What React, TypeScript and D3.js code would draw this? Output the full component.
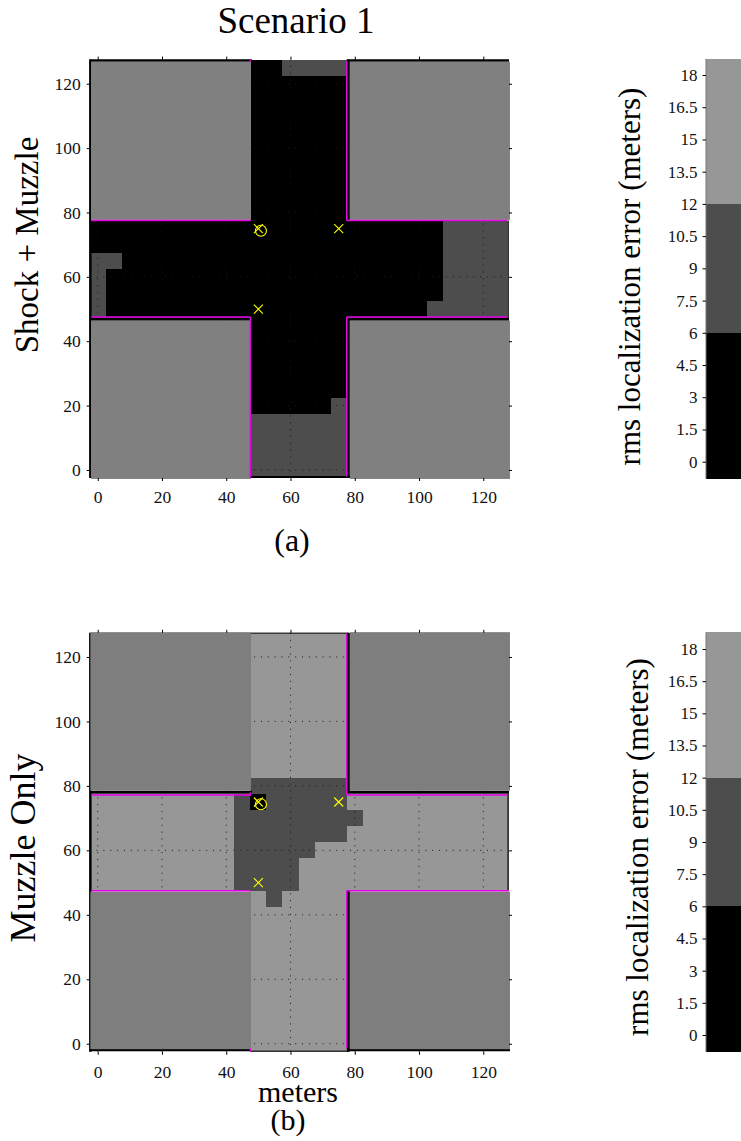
import React, { useEffect, useRef } from 'react';
import * as d3 from 'd3';

const width = 741;
const height = 1141;
const serif = '"Liberation Serif", "Times New Roman", serif';

const tickValues = [0, 20, 40, 60, 80, 100, 120];
const colorbarTicks = [0, 1.5, 3, 4.5, 6, 7.5, 9, 10.5, 12, 13.5, 15, 16.5, 18];
const colorbarEdges = [-0.8, 6, 12, 18.75];

// rms error per 5 m cell, top row is y=125, first column is x=0. "." is under a building
const levelMeters: Record<string, number> = { 0: 3, 1: 9, 2: 15 };
const cellCentersX = d3.range(0, 130, 5);
const cellCentersY = d3.range(125, -5, -5);

const gridA = [
  '..........001111..........',
  '..........000000..........',
  '..........000000..........',
  '..........000000..........',
  '..........000000..........',
  '..........000000..........',
  '..........000000..........',
  '..........000000..........',
  '..........000000..........',
  '..........000000..........',
  '00000000000000000000001111',
  '00000000000000000000001111',
  '11000000000000000000001111',
  '10000000000000000000001111',
  '10000000000000000000001111',
  '10000000000000000000011111',
  '..........000000..........',
  '..........000000..........',
  '..........000000..........',
  '..........000000..........',
  '..........000000..........',
  '..........000001..........',
  '..........111111..........',
  '..........111111..........',
  '..........111111..........',
  '..........111111..........',
];

const gridB = [
  '..........222222..........',
  '..........222222..........',
  '..........222222..........',
  '..........222222..........',
  '..........222222..........',
  '..........222222..........',
  '..........222222..........',
  '..........222222..........',
  '..........222222..........',
  '..........111111..........',
  '22222222210111112222222222',
  '22222222211111111222222222',
  '22222222211111112222222222',
  '22222222211111222222222222',
  '22222222211112222222222222',
  '22222222211112222222222222',
  '..........212222..........',
  '..........222222..........',
  '..........222222..........',
  '..........222222..........',
  '..........222222..........',
  '..........222222..........',
  '..........222222..........',
  '..........222222..........',
  '..........222222..........',
  '..........222222..........',
];

// [xMin, xMax, yMin, yMax] in meters
const buildingsA = [
  [-2.1, 47.7, 77.7, 126.8],
  [78.5, 128.3, 77.7, 126.8],
  [-2.1, 47.7, -2.8, 46.4],
  [78.5, 128.3, -2.8, 46.4],
];
const buildingsB = [
  [-2.3, 47.7, 78.5, 127.7],
  [78.5, 128.3, 78.5, 127.7],
  [-2.3, 47.7, -1.7, 47.2],
  [78.5, 128.3, -1.7, 47.2],
];

// [x1, y1, x2, y2, stroke px]
const blackA = [
  [-2.3, -2.5, -2.3, 127.5, 2.5],
  [-2.5, 127.2, 48, 127.2, 2.5],
  [77.5, 127.2, 128, 127.2, 2.5],
  [-2.5, 46.9, 47.5, 46.9, 3.6],
  [77.5, 46.9, 128, 46.9, 3.6],
  [78, -2.5, 78, 47, 3],
  [78, 77.5, 78, 127.5, 3],
  [127.7, 47.5, 127.7, 77.5, 1.5],
  [47.5, -2.2, 78.5, -2.2, 2],
];
const magentaA = [
  [-2, 77.5, 47.7, 77.5],
  [47.5, 127.5, 47.5, 126.8],
  [47.5, 47.5, 47.5, -2.5],
  [-2, 47.5, 47.5, 47.5],
  [77.5, 47.5, 127.5, 47.5],
  [77.5, 77.5, 127.5, 77.5],
  [77.5, 77.5, 77.5, 127],
  [77.5, 47.5, 77.5, -2],
];
const blackB = [
  [-2.3, -2.5, -2.3, 127.5, 2.5],
  [47.5, 127.4, 78, 127.4, 1],
  [-2.5, 78, 48, 78, 3],
  [77.5, 78, 128, 78, 3],
  [78, -2.5, 78, 47.6, 3],
  [78, 78, 78, 127.5, 3],
  [127.7, 47.5, 127.7, 77.5, 1.5],
  [-2.5, -1.9, 47.7, -1.9, 2.8],
  [78, -1.9, 128.3, -1.9, 2.8],
  [47.5, -2.3, 78, -2.3, 1],
];
const magentaB = [
  [-2, 77.2, 47.7, 77.2],
  [47.5, 78, 47.5, 77],
  [77.5, 77.2, 127.5, 77.2],
  [77.5, 77.2, 77.5, 127.3],
  [-2, 47.5, 47.5, 47.5],
  [77.5, 47.5, 128, 47.5],
  [77.5, 47.5, 77.5, -1.5],
  [47.5, -1.5, 47.5, -2.5],
];

const sensors = [
  [50, 75],
  [75, 75],
  [50, 50],
];
const shooter = [50.8, 74.3];

const errorColor = d3
  .scaleThreshold<number, string>()
  .domain([6, 12])
  .range(['#000000', '#4d4d4d', '#979797']);

type MapProps = {
  grid: string[];
  buildings: number[][];
  black: number[][];
  magenta: number[][];
  top: number;
  bottom: number;
  buildingFill: string;
  labelGap: number;
};

function ErrorMap({ grid, buildings, black, magenta, top, bottom, buildingFill, labelGap }: MapProps) {
  const gRef = useRef<SVGGElement>(null);
  const x = d3.scaleLinear().domain([-2.5, 128]).range([89.7, 509]);
  const y = d3.scaleLinear().domain([-2.5, 127.5]).range([bottom, top]);
  const cell = 2.5;

  useEffect(() => {
    const g = d3.select(gRef.current);
    g.selectAll('*').remove();
    const axes = [
      { axis: d3.axisLeft(y), at: [x(-2.5), 0], labels: true, padding: 6 },
      { axis: d3.axisRight(y), at: [x(128), 0], labels: false, padding: 0 },
      { axis: d3.axisBottom(x), at: [0, bottom], labels: true, padding: labelGap },
      { axis: d3.axisTop(x), at: [0, top], labels: false, padding: 0 },
    ];
    axes.forEach(({ axis, at, labels, padding }) => {
      const sel = g
        .append('g')
        .attr('transform', `translate(${at[0]},${at[1]})`)
        .call(
          (axis as any)
            .tickValues(tickValues)
            .tickSize(3)
            .tickPadding(padding)
            .tickFormat(labels ? (d: any) => `${d}` : () => '')
        );
      sel.select('.domain').remove();
      sel.selectAll('text').attr('font-size', 17.5).attr('font-family', serif).attr('fill', '#111');
    });
  }, []);

  const seg = (d: number[], i: number, color: string, w: number) => (
    <line key={i} x1={x(d[0])} y1={y(d[1])} x2={x(d[2])} y2={y(d[3])} stroke={color} strokeWidth={w} />
  );

  return (
    <g>
      {grid.map((row, r) =>
        row.split('').map((c, i) =>
          c === '.' ? null : (
            <rect
              key={`${r}-${i}`}
              x={x(cellCentersX[i] - cell)}
              y={y(cellCentersY[r] + cell)}
              width={x(cellCentersX[i] + cell) - x(cellCentersX[i] - cell)}
              height={y(cellCentersY[r] - cell) - y(cellCentersY[r] + cell)}
              fill={errorColor(levelMeters[c])}
              shapeRendering="crispEdges"
            />
          )
        )
      )}
      {tickValues.map((t) => (
        <g key={t} stroke="#1a1a1a" strokeWidth={1} strokeDasharray="1 5.85">
          <line x1={x(t)} x2={x(t)} y1={y(-2.5)} y2={y(127.5)} />
          <line x1={x(-2.5)} x2={x(127.5)} y1={y(t)} y2={y(t)} />
        </g>
      ))}
      {black.map((d, i) => seg(d, i, '#000', d[4]))}
      {buildings.map((b, i) => (
        <rect
          key={i}
          x={x(b[0])}
          y={y(b[3])}
          width={x(b[1]) - x(b[0])}
          height={y(b[2]) - y(b[3])}
          fill={buildingFill}
        />
      ))}
      {magenta.map((d, i) => seg(d, i, '#e800e8', 1.5))}
      <g ref={gRef} />
      {sensors.map((s, i) => (
        <path
          key={i}
          d={`M${x(s[0]) - 4.5},${y(s[1]) - 4.5}L${x(s[0]) + 4.5},${y(s[1]) + 4.5}M${x(s[0]) - 4.5},${y(s[1]) + 4.5}L${x(s[0]) + 4.5},${y(s[1]) - 4.5}`}
          stroke="#ffff00"
          strokeWidth={1.1}
          fill="none"
        />
      ))}
      <circle cx={x(shooter[0])} cy={y(shooter[1])} r={5.5} fill="none" stroke="#ffff00" strokeWidth={1.1} />
    </g>
  );
}

type ColorbarProps = { tick0: number; tick18: number; top: number; bottom: number; labelX: number; labelY: number };

function Colorbar({ tick0, tick18, top, bottom, labelX, labelY }: ColorbarProps) {
  const axisRef = useRef<SVGGElement>(null);
  const y = d3.scaleLinear().domain([0, 18]).range([tick0, tick18]);
  const barX = 706;

  useEffect(() => {
    const sel = d3.select(axisRef.current);
    sel.selectAll('*').remove();
    sel.call(
      d3
        .axisLeft(y)
        .tickValues(colorbarTicks)
        .tickSize(3.5)
        .tickPadding(5)
        .tickFormat((d) => `${d}`) as any
    );
    sel.select('.domain').remove();
    sel.selectAll('text').attr('font-size', 17).attr('font-family', serif).attr('fill', '#111');
  }, []);

  return (
    <g>
      {colorbarEdges.slice(0, -1).map((lo, i) => {
        const hi = colorbarEdges[i + 1];
        const yTop = i === 2 ? top : y(hi);
        const yBottom = i === 0 ? bottom : y(lo);
        return (
          <rect
            key={lo}
            x={barX}
            y={yTop}
            width={width - barX}
            height={yBottom - yTop}
            fill={errorColor((lo + hi) / 2)}
            shapeRendering="crispEdges"
          />
        );
      })}
      <line x1={barX} x2={barX} y1={top} y2={bottom} stroke="#777" strokeWidth={1} />
      <g ref={axisRef} transform={`translate(${barX},0)`} />
      <text
        transform={`translate(${labelX},${labelY}) rotate(-90)`}
        textAnchor="middle"
        fontFamily={serif}
        fontSize={31}
      >
        rms localization error (meters)
      </text>
    </g>
  );
}

export default function App() {
  return (
    <svg
      width={width}
      height={height}
      style={{ position: 'absolute', left: 0, top: 0, display: 'block', background: '#fff' }}
    >
      <text x={296} y={33} textAnchor="middle" fontFamily={serif} fontSize={37}>
        Scenario 1
      </text>
      <text transform="translate(38,245) rotate(-90)" textAnchor="middle" fontFamily={serif} fontSize={33}>
        Shock + Muzzle
      </text>
      <text x={292} y={551} textAnchor="middle" fontFamily={serif} fontSize={32}>
        (a)
      </text>
      <text transform="translate(35,848) rotate(-90)" textAnchor="middle" fontFamily={serif} fontSize={36}>
        Muzzle Only
      </text>
      <text x={298} y={1102} textAnchor="middle" fontFamily={serif} fontSize={30}>
        meters
      </text>
      <text x={288} y={1130} textAnchor="middle" fontFamily={serif} fontSize={30}>
        (b)
      </text>

      <ErrorMap
        grid={gridA}
        buildings={buildingsA}
        black={blackA}
        magenta={magentaA}
        top={59.6}
        bottom={478}
        buildingFill="#808080"
        labelGap={10}
      />
      <ErrorMap
        grid={gridB}
        buildings={buildingsB}
        black={blackB}
        magenta={magentaB}
        top={632.8}
        bottom={1051.8}
        buildingFill="#7e7e7e"
        labelGap={11}
      />

      <Colorbar tick0={461.7} tick18={75} top={59} bottom={479} labelX={640} labelY={276.5} />
      <Colorbar tick0={1035} tick18={649} top={632.3} bottom={1052} labelX={648} labelY={847} />
    </svg>
  );
}
